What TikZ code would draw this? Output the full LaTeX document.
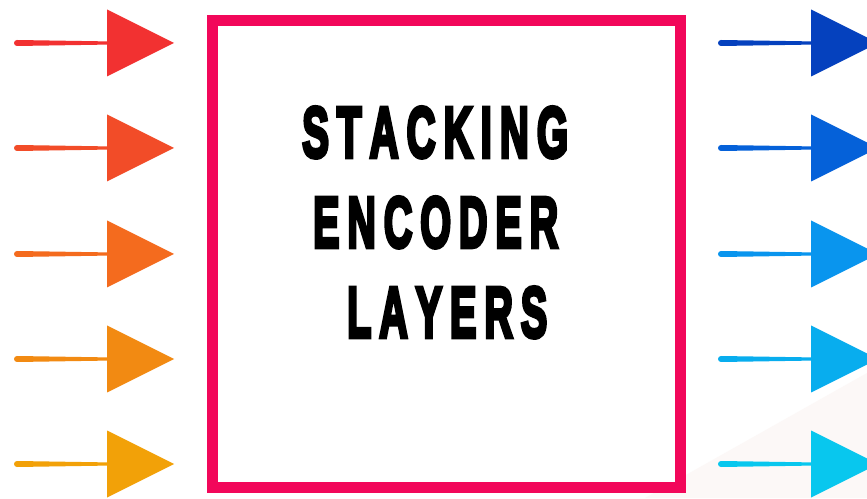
\documentclass[tikz,border=0pt]{standalone}
\usepackage{fontspec}
\usepackage{graphicx}
\newfontfamily\titlefont{Liberation Sans}[FakeBold=6]
\definecolor{boxpink}{HTML}{F2075A}
\definecolor{lA}{HTML}{F23131}
\definecolor{lB}{HTML}{F24C28}
\definecolor{lC}{HTML}{F46B1E}
\definecolor{lD}{HTML}{F28A12}
\definecolor{lE}{HTML}{F2A108}
\definecolor{rA}{HTML}{0541BE}
\definecolor{rB}{HTML}{0561D9}
\definecolor{rC}{HTML}{0995EE}
\definecolor{rD}{HTML}{08ADEE}
\definecolor{rE}{HTML}{08C7EE}
\definecolor{faint}{RGB}{252,248,247}
\newcommand\lsp{\kern0.2em}
\begin{document}
\begin{tikzpicture}[x=1pt,y=1pt,
  arr/.pic={
    \fill (0,3) -- (90,1.6) -- (90,33.5) -- (157,0) -- (90,-33.5) -- (90,-1.6) -- (0,-3)
      arc[start angle=270, end angle=90, radius=3] -- cycle;
  },
  titleline/.style={inner sep=0pt, anchor=south west, font=\titlefont\bfseries},
  frame/.style={draw=boxpink, line width=11pt, inner sep=0pt, minimum width=468pt, minimum height=467pt}]
\fill[white] (0,0) rectangle (867,498);
\useasboundingbox (0,0) rectangle (867,498);
\fill[faint] (645,0) -- (867,125) -- (867,0) -- cycle;
\node[frame] (box) at (446.5,244) {};
\node[titleline] (t1) at (302,340) {\resizebox{266pt}{50pt}{S\lsp T\lsp A\lsp C\lsp K\lsp I\lsp N\lsp G}};
\node[titleline] (t2) at (313,250) {\resizebox{245pt}{50pt}{E\lsp N\lsp C\lsp O\lsp D\lsp E\lsp R}};
\node[titleline] (t3) at (347,160) {\resizebox{200pt}{50pt}{L\lsp A\lsp Y\lsp E\lsp R\lsp S}};
\pic[fill=lA] at (17,455) {arr};
\pic[fill=lB] at (17,350) {arr};
\pic[fill=lC] at (17,244) {arr};
\pic[fill=lD] at (17,139) {arr};
\pic[fill=lE] at (17,34) {arr};
\pic[fill=rA] at (721,455) {arr};
\pic[fill=rB] at (721,350) {arr};
\pic[fill=rC] at (721,244) {arr};
\pic[fill=rD] at (721,139) {arr};
\pic[fill=rE] at (721,34) {arr};
\end{tikzpicture}
\end{document}
